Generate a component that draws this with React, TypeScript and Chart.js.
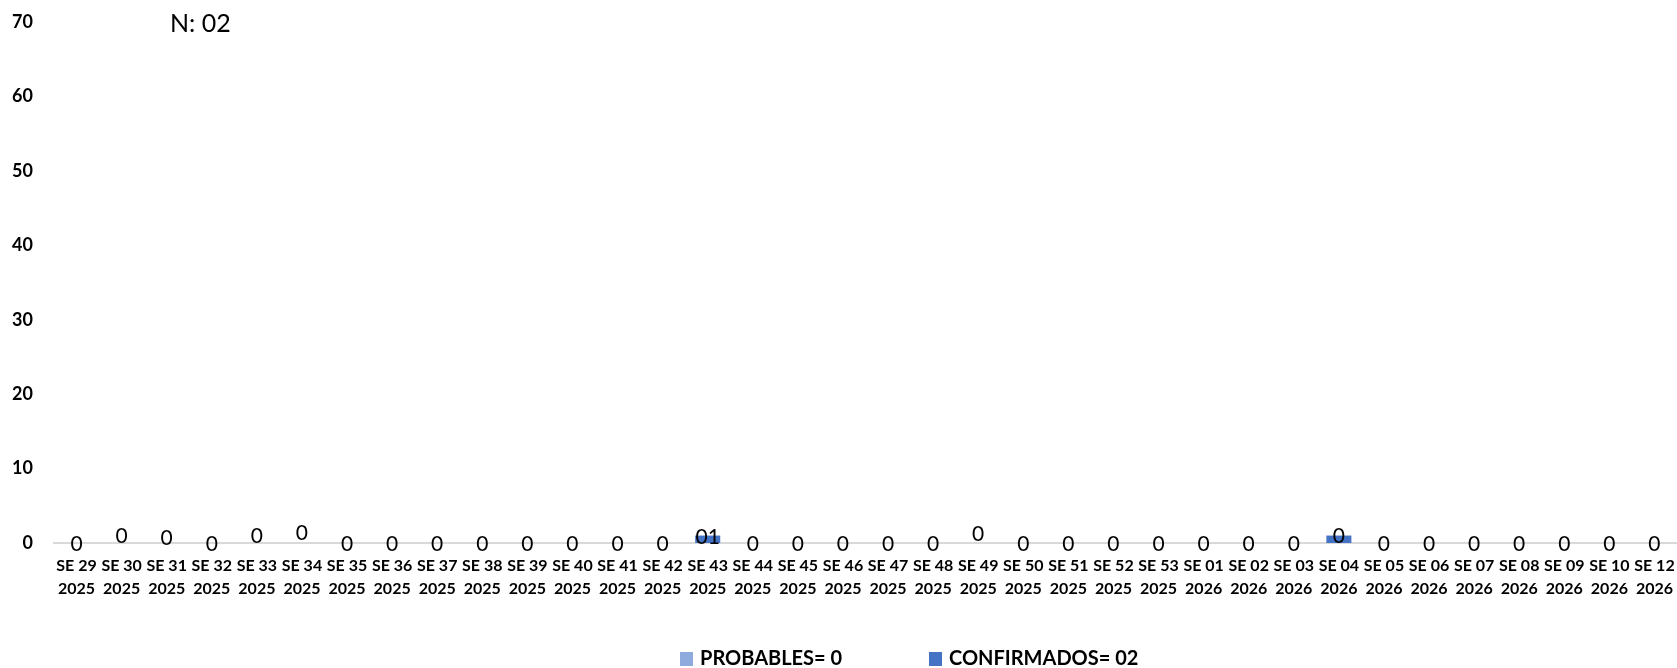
import React, { useEffect, useRef } from 'react';
import { Chart, registerables } from 'chart.js';

Chart.register(...registerables);

const weekLabels = [
  'SE 29', 'SE 30', 'SE 31', 'SE 32', 'SE 33', 'SE 34', 'SE 35', 'SE 36', 'SE 37', 'SE 38',
  'SE 39', 'SE 40', 'SE 41', 'SE 42', 'SE 43', 'SE 44', 'SE 45', 'SE 46', 'SE 47', 'SE 48',
  'SE 49', 'SE 50', 'SE 51', 'SE 52', 'SE 53', 'SE 01', 'SE 02', 'SE 03', 'SE 04', 'SE 05',
  'SE 06', 'SE 07', 'SE 08', 'SE 09', 'SE 10', 'SE 12',
];
const yearLabels = [
  '2025', '2025', '2025', '2025', '2025', '2025', '2025', '2025', '2025', '2025',
  '2025', '2025', '2025', '2025', '2025', '2025', '2025', '2025', '2025', '2025',
  '2025', '2025', '2025', '2025', '2025', '2026', '2026', '2026', '2026', '2026',
  '2026', '2026', '2026', '2026', '2026', '2026',
];
const probables = [
  0, 0, 0, 0, 0, 0, 0, 0, 0, 0,
  0, 0, 0, 0, 0, 0, 0, 0, 0, 0,
  0, 0, 0, 0, 0, 0, 0, 0, 0, 0,
  0, 0, 0, 0, 0, 0,
];
const confirmados = [
  0, 0, 0, 0, 0, 0, 0, 0, 0, 0,
  0, 0, 0, 0, 1, 0, 0, 0, 0, 0,
  0, 0, 0, 0, 0, 0, 0, 0, 1, 0,
  0, 0, 0, 0, 0, 0,
];
const valueLabels = [
  '0', '0', '0', '0', '0', '0', '0', '0', '0', '0',
  '0', '0', '0', '0', '01', '0', '0', '0', '0', '0',
  '0', '0', '0', '0', '0', '0', '0', '0', '0', '0',
  '0', '0', '0', '0', '0', '0',
];
// style: vertical lift (px) of each data label, as placed in the reference
const labelLift = [
  0, 8, 6, 0, 8, 11, 0, 0, 0, 0,
  0, 0, 0, 0, 7, 0, 0, 0, 0, 0,
  10, 0, 0, 0, 0, 0, 0, 0, 8, 0,
  0, 0, 0, 0, 0, 0,
];
const seriesNames = ['PROBABLES= 0', 'CONFIRMADOS= 02'];
const seriesColors = ['#8FAADC', '#4472C4'];
const totalText = 'N: 02';

const FONT = 'Lato, "Noto Sans", sans-serif';

export default function App() {
  const ref = useRef<HTMLCanvasElement | null>(null);

  useEffect(() => {
    document.body.style.margin = '0';
    const canvas = ref.current;
    if (!canvas) return;

    const labelsPlugin = {
      id: 'valueLabels',
      afterDatasetsDraw(chart: any) {
        const { ctx, scales } = chart;
        const xs = scales.x;
        const ys = scales.y;
        ctx.save();
        ctx.font = `400 21px ${FONT}`;
        ctx.fillStyle = '#000000';
        ctx.textAlign = 'center';
        ctx.textBaseline = 'middle';
        valueLabels.forEach((t, i) => {
          const x = xs.getPixelForValue(i);
          const y = ys.getPixelForValue(0) + 1 - labelLift[i];
          ctx.fillText(t, x, y);
        });
        ctx.font = `400 25px ${FONT}`;
        ctx.textAlign = 'left';
        ctx.fillText(totalText, 170, 24);
        ctx.restore();
      },
    };

    const legendPlugin = {
      id: 'customLegend',
      afterDraw(chart: any) {
        const { ctx } = chart;
        const starts = [680, 929];
        const cy = 659;
        ctx.save();
        ctx.font = `700 20px ${FONT}`;
        ctx.textBaseline = 'middle';
        ctx.textAlign = 'left';
        chart.data.datasets.forEach((ds: any, i: number) => {
          ctx.fillStyle = ds.backgroundColor;
          ctx.fillRect(starts[i], cy - 7, 13, 14);
          ctx.fillStyle = '#000000';
          ctx.fillText(ds.label, starts[i] + 20, cy);
        });
        ctx.restore();
      },
    };

    const chart = new Chart(canvas, {
      type: 'bar',
      data: {
        labels: weekLabels.map((w, i) => [w, yearLabels[i]]),
        datasets: [
          {
            label: seriesNames[0],
            data: probables,
            backgroundColor: seriesColors[0],
            barPercentage: 0.555,
            categoryPercentage: 1,
          },
          {
            label: seriesNames[1],
            data: confirmados,
            backgroundColor: seriesColors[1],
            barPercentage: 0.555,
            categoryPercentage: 1,
          },
        ],
      },
      options: {
        responsive: false,
        animation: false,
        layout: { padding: { top: 22, left: 0, right: 0, bottom: 0 } },
        plugins: {
          legend: { display: false },
          tooltip: { enabled: false },
        },
        scales: {
          x: {
            stacked: true,
            grid: { display: false, drawTicks: false },
            border: { display: true, color: '#d9d9d9', width: 2 },
            ticks: {
              color: '#000000',
              font: { family: FONT, weight: 'bold', size: 16, lineHeight: '23px' },
              padding: 11,
              maxRotation: 0,
              minRotation: 0,
              autoSkip: false,
            },
            afterFit: (s: any) => {
              s.height = 125;
              s.paddingLeft = 0;
              s.paddingRight = 0;
            },
          },
          y: {
            stacked: true,
            min: 0,
            max: 70,
            grid: { display: false, drawTicks: false },
            border: { display: false },
            ticks: {
              stepSize: 10,
              color: '#000000',
              font: { family: FONT, weight: 'bold', size: 18 },
              padding: 21,
            },
            afterFit: (s: any) => {
              s.width = 54;
              s.paddingTop = 0;
              s.paddingBottom = 0;
            },
          },
        },
      },
      plugins: [labelsPlugin, legendPlugin],
    });

    return () => chart.destroy();
  }, []);

  return (
    <div style={{ width: 1677, height: 668, background: '#ffffff' }}>
      <canvas ref={ref} width={1677} height={668} style={{ display: 'block' }} />
    </div>
  );
}
